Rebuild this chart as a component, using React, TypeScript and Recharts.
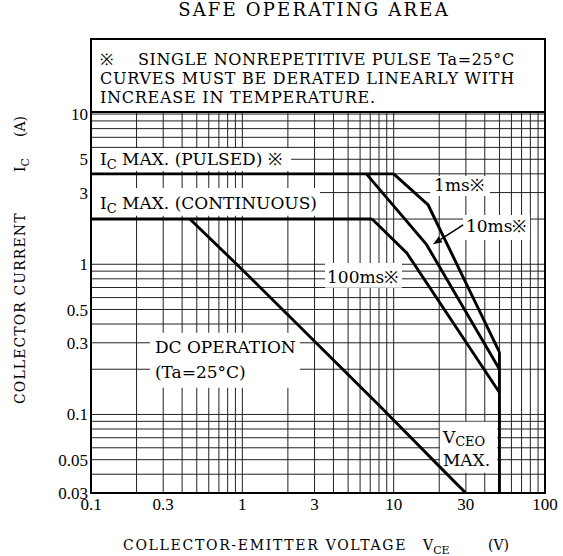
import React from "react";
import {
  LineChart,
  Line,
  XAxis,
  YAxis,
  CartesianGrid,
  ReferenceArea,
  ReferenceLine,
} from "recharts";

type Pt = { v: number; i: number };

const xTicks = [0.1, 0.3, 1, 3, 10, 30, 100];
const yTicks = [0.03, 0.05, 0.1, 0.3, 0.5, 1, 3, 5, 10];

// log grid: 2..9 of every decade
const xGrid = [
  0.2, 0.3, 0.4, 0.5, 0.6, 0.7, 0.8, 0.9, 1, 2, 3, 4, 5, 6, 7, 8, 9, 10, 20,
  30, 40, 50, 60, 70, 80, 90,
];
const yGrid = [
  0.04, 0.05, 0.06, 0.07, 0.08, 0.09, 0.1, 0.2, 0.3, 0.4, 0.5, 0.6, 0.7, 0.8,
  0.9, 1, 2, 3, 4, 5, 6, 7, 8, 9, 10,
];

const X_MIN = 0.1;
const X_MAX = 100;
const Y_MIN = 0.03;
const Y_MAX = 31.6;

// VCE (V) vs IC (A)
const pulsedMax: Pt[] = [
  { v: 0.1, i: 4 },
  { v: 10, i: 4 },
];
const continuousMax: Pt[] = [
  { v: 0.1, i: 2 },
  { v: 7.2, i: 2 },
];
const pulse1ms: Pt[] = [
  { v: 10, i: 4 },
  { v: 16.9, i: 2.48 },
  { v: 50, i: 0.26 },
];
const pulse10ms: Pt[] = [
  { v: 6.6, i: 4 },
  { v: 16.5, i: 1.35 },
  { v: 50, i: 0.2 },
];
const pulse100ms: Pt[] = [
  { v: 7.2, i: 2 },
  { v: 12.2, i: 1.19 },
  { v: 50, i: 0.14 },
];
const dcOperation: Pt[] = [
  { v: 0.45, i: 2 },
  { v: 1, i: 0.92 },
  { v: 8, i: 0.115 },
  { v: 25, i: 0.036 },
  { v: 30, i: 0.03 },
];
const vceoMax: Pt[] = [
  { v: 50, i: 0.26 },
  { v: 50, i: 0.03 },
];

const arrow10ms: Pt[] = [
  { v: 28.8, i: 1.83 },
  { v: 18.2, i: 1.36 },
];

const FONT = "'DejaVu Serif', 'Liberation Serif', serif";
const TICK_FONT = "'Liberation Serif', serif";

const series = [pulsedMax, continuousMax, pulse1ms, pulse10ms, pulse100ms, dcOperation, vceoMax];

const txt = { fontFamily: FONT, fontSize: 17, fill: "#000" } as const;
const note = { fontFamily: FONT, fontSize: 16, fill: "#000" } as const;

// map grid values through the axis' own scale (log)
function scaleOf(axis: any, lo: number, hi: number, start: number, size: number) {
  const s = axis && axis.scale;
  if (typeof s === "function") return (v: number) => s(v);
  if (s && typeof s.map === "function") return (v: number) => s.map(v);
  // fallback: plain log mapping over the plot box
  return (v: number) =>
    start + (size * (Math.log10(v) - Math.log10(lo))) / (Math.log10(hi) - Math.log10(lo));
}

const vGen = ({ xAxis, offset }: any) => {
  const f = scaleOf(xAxis, X_MIN, X_MAX, offset.left, offset.width);
  return xGrid.map((v) => f(v));
};
const hGen = ({ yAxis, offset }: any) => {
  const s = yAxis && yAxis.scale;
  if (typeof s === "function" || (s && typeof s.map === "function")) {
    const f = scaleOf(yAxis, Y_MIN, Y_MAX, 0, 0);
    return yGrid.map((v) => f(v));
  }
  return yGrid.map(
    (v) =>
      offset.top +
      offset.height -
      (offset.height * (Math.log10(v) - Math.log10(Y_MIN))) / (Math.log10(Y_MAX) - Math.log10(Y_MIN))
  );
};

// label renderers, positioned inside the white ReferenceArea that masks the grid
const noteLabel = ({ viewBox }: any) => (
  <g>
    <text {...note} x={viewBox.x + 9} y={viewBox.y + 26}>
      ※
    </text>
    <text {...note} x={viewBox.x + 47} y={viewBox.y + 26} letterSpacing={0.6}>
      SINGLE NONREPETITIVE PULSE Ta=25°C
    </text>
    <text {...note} x={viewBox.x + 9} y={viewBox.y + 45} letterSpacing={0.75}>
      CURVES MUST BE DERATED LINEARLY WITH
    </text>
    <text {...note} x={viewBox.x + 9} y={viewBox.y + 64} letterSpacing={0.75}>
      INCREASE IN TEMPERATURE.
    </text>
  </g>
);

const icLabel = (rest: string, dy: number) => ({ viewBox }: any) => (
  <text {...txt} x={viewBox.x + 9} y={viewBox.y + dy}>
    I
    <tspan fontSize={13} dy={4}>
      C
    </tspan>
    <tspan dy={-4}>{rest}</tspan>
  </text>
);

const simpleLabel = (s: string, dx: number, dy: number) => ({ viewBox }: any) => (
  <text {...txt} x={viewBox.x + dx} y={viewBox.y + dy}>
    {s}
  </text>
);

const dcLabel = ({ viewBox }: any) => (
  <g>
    <text {...txt} x={viewBox.x + 5} y={viewBox.y + 20}>
      DC OPERATION
    </text>
    <text {...txt} x={viewBox.x + 5} y={viewBox.y + 45}>
      (Ta=25°C)
    </text>
  </g>
);

const vceoLabel = ({ viewBox }: any) => (
  <g>
    <text {...txt} x={viewBox.x + 3} y={viewBox.y + 21}>
      V
      <tspan fontSize={13} dy={3}>
        CEO
      </tspan>
    </text>
    <text {...txt} x={viewBox.x + 3} y={viewBox.y + 44}>
      MAX.
    </text>
  </g>
);

const ArrowShape = (p: any) => {
  const { x1, y1, x2, y2 } = p;
  const a = Math.atan2(y2 - y1, x2 - x1);
  const L = 9;
  const W = 3.5;
  const bx = x2 - L * Math.cos(a);
  const by = y2 - L * Math.sin(a);
  const nx = -Math.sin(a) * W;
  const ny = Math.cos(a) * W;
  return (
    <g>
      <line x1={x1} y1={y1} x2={bx} y2={by} stroke="#000" strokeWidth={1.6} />
      <polygon points={`${x2},${y2} ${bx + nx},${by + ny} ${bx - nx},${by - ny}`} fill="#000" />
    </g>
  );
};

export default function App() {
  return (
    <div style={{ position: "relative", width: 563, height: 556, background: "#fff" }}>
      <style>{"body{margin:0}"}</style>
      <LineChart
        width={563}
        height={556}
        margin={{ top: 39, right: 18, bottom: 33, left: 0 }}
      >
        <CartesianGrid
          verticalCoordinatesGenerator={vGen}
          horizontalCoordinatesGenerator={hGen}
          stroke="#222"
          strokeWidth={1}
        />
        <XAxis
          type="number"
          dataKey="v"
          scale="log"
          domain={[X_MIN, X_MAX]}
          ticks={xTicks}
          interval={0}
          allowDataOverflow
          axisLine={false}
          tickLine={false}
          tickSize={0}
          tickMargin={5}
          height={30}
          tick={{ fill: "#000", fontSize: 17, fontFamily: TICK_FONT }}
        />
        <YAxis
          type="number"
          dataKey="i"
          scale="log"
          domain={[Y_MIN, Y_MAX]}
          ticks={yTicks}
          interval={0}
          allowDataOverflow
          axisLine={false}
          tickLine={false}
          tickSize={0}
          tickMargin={3}
          width={91}
          tick={{ fill: "#000", fontSize: 17, fontFamily: TICK_FONT }}
        />

        {/* white masks with the annotations */}
        <ReferenceArea x1={X_MIN} x2={X_MAX} y1={10.33} y2={Y_MAX} fill="#fff" fillOpacity={1} stroke="#000" strokeWidth={2} label={noteLabel} />
        <ReferenceArea x1={X_MIN} x2={2.1} y1={4.18} y2={5.95} fill="#fff" fillOpacity={1} stroke="none" label={icLabel(" MAX. (PULSED) ※", 17)} />
        <ReferenceArea x1={X_MIN} x2={3.26} y1={2.1} y2={3.22} fill="#fff" fillOpacity={1} stroke="none" label={icLabel(" MAX. (CONTINUOUS)", 21)} />
        <ReferenceArea x1={17.4} x2={43.3} y1={2.85} y2={3.87} fill="#fff" fillOpacity={1} stroke="none" label={simpleLabel("1ms※", 4, 15)} />
        <ReferenceArea x1={28.7} x2={79.6} y1={1.45} y2={2.13} fill="#fff" fillOpacity={1} stroke="none" label={simpleLabel("10ms※", 3, 17)} />
        <ReferenceArea x1={3.52} x2={11.35} y1={0.697} y2={1.02} fill="#fff" fillOpacity={1} stroke="none" label={simpleLabel("100ms※", 2, 20)} />
        <ReferenceArea x1={0.245} x2={2.4} y1={0.1505} y2={0.35} fill="#fff" fillOpacity={1} stroke="none" label={dcLabel} />
        <ReferenceArea x1={20.2} x2={48.2} y1={0.0409} y2={0.0894} fill="#fff" fillOpacity={1} stroke="none" label={vceoLabel} />

        {series.map((d, k) => (
          <Line
            key={k}
            data={d}
            dataKey="i"
            type="linear"
            stroke="#000"
            strokeWidth={2.9}
            dot={false}
            activeDot={false}
            isAnimationActive={false}
          />
        ))}

        <ReferenceLine
          segment={[
            { x: arrow10ms[0].v, y: arrow10ms[0].i },
            { x: arrow10ms[1].v, y: arrow10ms[1].i },
          ]}
          shape={ArrowShape}
        />

        <ReferenceArea x1={X_MIN} x2={X_MAX} y1={Y_MIN} y2={Y_MAX} fill="none" stroke="#000" strokeWidth={2} />
      </LineChart>

      <svg
        width={563}
        height={556}
        style={{ position: "absolute", left: 0, top: 0, pointerEvents: "none" }}
      >
        <text x={314} y={16} textAnchor="middle" fontFamily={FONT} fontSize={18} letterSpacing={2.2}>
          SAFE OPERATING AREA
        </text>
        <text fontFamily={FONT} fontSize={14} y={550}>
          <tspan x={123} letterSpacing={1.7}>COLLECTOR-EMITTER VOLTAGE</tspan>
          <tspan x={423}>V</tspan>
          <tspan fontSize={11} dy={4}>CE</tspan>
          <tspan x={488} dy={-4}>(V)</tspan>
        </text>
        <text fontFamily={FONT} fontSize={14} transform="translate(25,404) rotate(-90)">
          <tspan x={0} letterSpacing={1.1}>COLLECTOR CURRENT</tspan>
          <tspan x={232}>I</tspan>
          <tspan fontSize={11} dy={4}>C</tspan>
          <tspan x={267} dy={-4}>(A)</tspan>
        </text>
      </svg>
    </div>
  );
}
